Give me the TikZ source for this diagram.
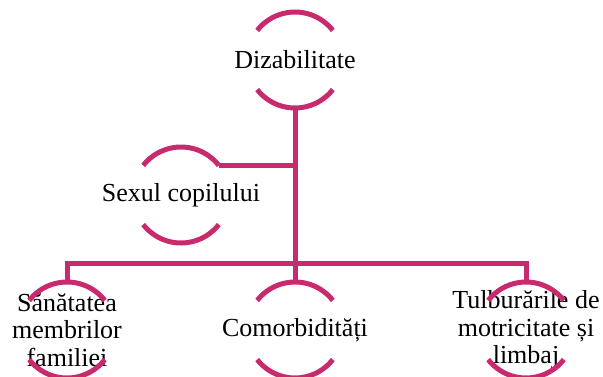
\documentclass[tikz,border=0pt]{standalone}
\usepackage{fontspec}
\setmainfont{Liberation Serif}
\definecolor{berry}{RGB}{201,42,110}
\tikzset{
  ring/.style={circle,minimum size=96pt,inner sep=0pt,outer sep=0pt},
  caption/.style={align=center,inner sep=0pt,font=\fontsize{26}{27.5}\selectfont},
  link/.style={berry,line width=5pt}
}
\begin{document}
\begin{tikzpicture}[x=1pt,y=1pt]
    \useasboundingbox (0,0) rectangle (603,376);
    \clip (0,0) rectangle (603,376);
    \node[ring,label={[caption]center:Dizabilitate}] (dis) at (295,316) {};
    \node[ring,label={[caption]center:Sexul copilului}] (sex) at (181,181) {};
    \node[ring,label={[caption]center:{Sănătatea\\membrilor\\familiei}}] (san) at (67,46) {};
    \node[ring,label={[caption]center:Comorbidități}] (com) at (295,46) {};
    \node[ring,label={[caption]center:{Tulburările de\\motricitate și\\limbaj}}] (tul) at (526,46) {};
    \foreach \n in {dis,sex,san,com,tul} {
       \draw[link] (\n.38) arc[start angle=38,end angle=142,radius=48];
       \draw[link] (\n.218) arc[start angle=218,end angle=322,radius=48];
    }
    \coordinate (bus) at (295,113);
    \draw[link] (dis.south) -- (com.north);
    \draw[link] (sex.38) -- (sex.38 -| bus);
    \draw[link] (san.north) |- (bus) -| (tul.north);
\end{tikzpicture}
\end{document}
